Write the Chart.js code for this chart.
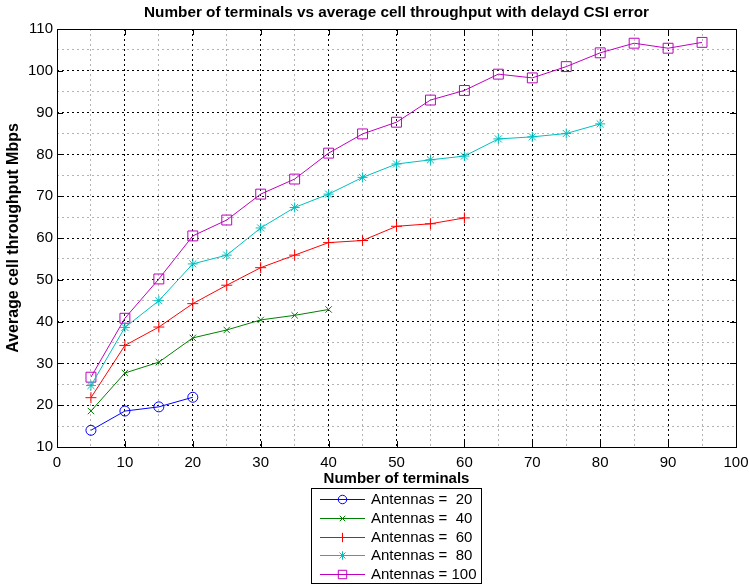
<!DOCTYPE html>
<html><head><meta charset="utf-8">
<script src="https://cdn.jsdelivr.net/npm/chart.js@4/dist/chart.umd.min.js"></script>
<style>html,body{margin:0;padding:0;background:#fff}#wrap{width:749px;height:587px;position:relative}canvas{display:block}</style>
</head><body><div id="wrap"><canvas id="c" width="749" height="587"></canvas></div>
<script>
const chartTitle = 'Number of terminals vs average cell throughput with delayd CSI error';
const xTitle = 'Number of terminals';
const yTitle = 'Average cell throughput Mbps';
const terminals = [5,10,15,20,25,30,35,40,45,50,55,60,65,70,75,80,85,90,95];
const seriesLabels = ['Antennas =  20','Antennas =  40','Antennas =  60','Antennas =  80','Antennas = 100'];
const ant20 = [14.0,18.6,19.6,21.9];
const ant40 = [18.6,27.7,30.3,36.1,38.0,40.4,41.5,42.9];
const ant60 = [21.8,34.3,38.7,44.3,48.7,52.9,55.9,58.9,59.4,62.8,63.4,64.8];
const ant80 = [24.7,38.6,45.0,53.8,55.9,62.4,67.3,70.5,74.5,77.7,78.7,79.6,83.7,84.2,85.0,87.3];
const ant100 = [26.7,40.8,50.2,60.5,64.3,70.5,74.1,80.3,84.9,87.7,93.0,95.3,99.2,98.3,101.0,104.3,106.6,105.4,106.8];
const xTickLabels = [0,10,20,30,40,50,60,70,80,90,100];
const yTickLabels = [10,20,30,40,50,60,70,80,90,100,110];

const seriesValues = [ant20, ant40, ant60, ant80, ant100];
const colors = ['#0000ff','#008000','#ff0000','#00bfbf','#bf00bf'];
const styles = ['circle','crossRot','cross','star','rect'];
const radii = [5,4.5,5.5,5,7];
const FONT = '"Liberation Sans", Arial, sans-serif';

const datasets = seriesValues.map((vals, i) => ({
  label: seriesLabels[i],
  data: vals.map((v, j) => ({x: terminals[j], y: v})),
  borderColor: colors[i],
  backgroundColor: 'transparent',
  borderWidth: 1,
  pointStyle: styles[i],
  pointRadius: radii[i],
  pointBorderColor: colors[i],
  pointBackgroundColor: 'transparent',
  pointBorderWidth: 1,
  tension: 0,
  fill: false
}));

const decor = {
  id: 'decor',
  afterDraw(chart) {
    const ctx = chart.ctx;
    const a = chart.chartArea;
    const xs = chart.scales.x, ys = chart.scales.y;
    ctx.save();
    ctx.strokeStyle = '#000';
    ctx.lineWidth = 1;
    ctx.setLineDash([]);
    ctx.strokeRect(Math.round(a.left)+0.5, Math.round(a.top)+0.5, Math.round(a.right-a.left), Math.round(a.bottom-a.top));
    const tl = 6;
    ctx.beginPath();
    xTickLabels.forEach(v => {
      const px = Math.round(xs.getPixelForValue(v)) + 0.5;
      ctx.moveTo(px, a.bottom); ctx.lineTo(px, a.bottom - tl);
      ctx.moveTo(px, a.top); ctx.lineTo(px, a.top + tl);
    });
    yTickLabels.forEach(v => {
      const py = Math.round(ys.getPixelForValue(v)) + 0.5;
      ctx.moveTo(a.left, py); ctx.lineTo(a.left + tl, py);
      ctx.moveTo(a.right, py); ctx.lineTo(a.right - tl, py);
    });
    ctx.stroke();
    ctx.fillStyle = '#000';
    ctx.textAlign = 'center';
    ctx.textBaseline = 'middle';
    const cx = (a.left + a.right) / 2;
    ctx.font = 'bold 15.3px ' + FONT;
    ctx.fillText(chartTitle, cx, 13);
    ctx.font = 'bold 15px ' + FONT;
    ctx.fillText(xTitle, cx, 479);
    ctx.save();
    ctx.font = 'bold 16px ' + FONT;
    ctx.translate(14, (a.top + a.bottom) / 2);
    ctx.rotate(-Math.PI / 2);
    ctx.fillText(yTitle, 0, 0);
    ctx.restore();
    const lx = 311.5, ly = 488.5, lw = 170, lh = 95;
    ctx.fillStyle = '#fff';
    ctx.fillRect(lx, ly, lw, lh);
    ctx.strokeStyle = '#000';
    ctx.strokeRect(lx, ly, lw, lh);
    ctx.font = '15px ' + FONT;
    ctx.textAlign = 'left';
    seriesLabels.forEach((lab, i) => {
      const y = 499 + i * 18.75;
      ctx.strokeStyle = colors[i];
      ctx.lineWidth = 1;
      ctx.beginPath();
      ctx.moveTo(320, Math.round(y) + 0.5); ctx.lineTo(365, Math.round(y) + 0.5);
      ctx.stroke();
      ctx.fillStyle = 'transparent';
      Chart.helpers.drawPoint(ctx, {pointStyle: styles[i], rotation: 0, radius: radii[i] * 0.85, borderWidth: 1}, 342.5, Math.round(y) + 0.5);
      ctx.fillStyle = '#000';
      ctx.fillText(lab, 371, y + 1);
    });
    ctx.restore();
  }
};

new Chart(document.getElementById('c'), {
  type: 'line',
  data: { datasets },
  options: {
    responsive: false,
    animation: false,
    layout: { padding: { top: 29, right: 13, left: 0, bottom: 0 } },
    plugins: { legend: { display: false }, title: { display: false }, tooltip: { enabled: false } },
    scales: {
      x: {
        type: 'linear', min: 0, max: 100,
        afterFit: s => { s.height = 140; s.paddingLeft = 0; s.paddingRight = 0; },
        ticks: { stepSize: 5, autoSkip: false, maxRotation: 0, color: '#000', padding: 7,
          font: { family: FONT, size: 15 },
          callback: v => (v % 10 === 0 ? String(v) : '') },
        grid: { drawTicks: false, lineWidth: 1,
          color: c => (c.tick && c.tick.value % 10 === 0 ? '#000' : '#b4b4b4') },
        border: { display: false, dash: [2, 3] }
      },
      y: {
        type: 'linear', min: 10, max: 110,
        afterFit: s => { s.width = 57; s.paddingTop = 0; s.paddingBottom = 0; },
        ticks: { stepSize: 5, autoSkip: false, color: '#000', padding: 4,
          font: { family: FONT, size: 15 },
          callback: v => (v % 10 === 0 ? String(v) : '') },
        grid: { drawTicks: false, lineWidth: 1,
          color: c => (c.tick && c.tick.value % 10 === 0 ? '#000' : '#b4b4b4') },
        border: { display: false, dash: [2, 3] }
      }
    }
  },
  plugins: [decor]
});
</script>
</body></html>
